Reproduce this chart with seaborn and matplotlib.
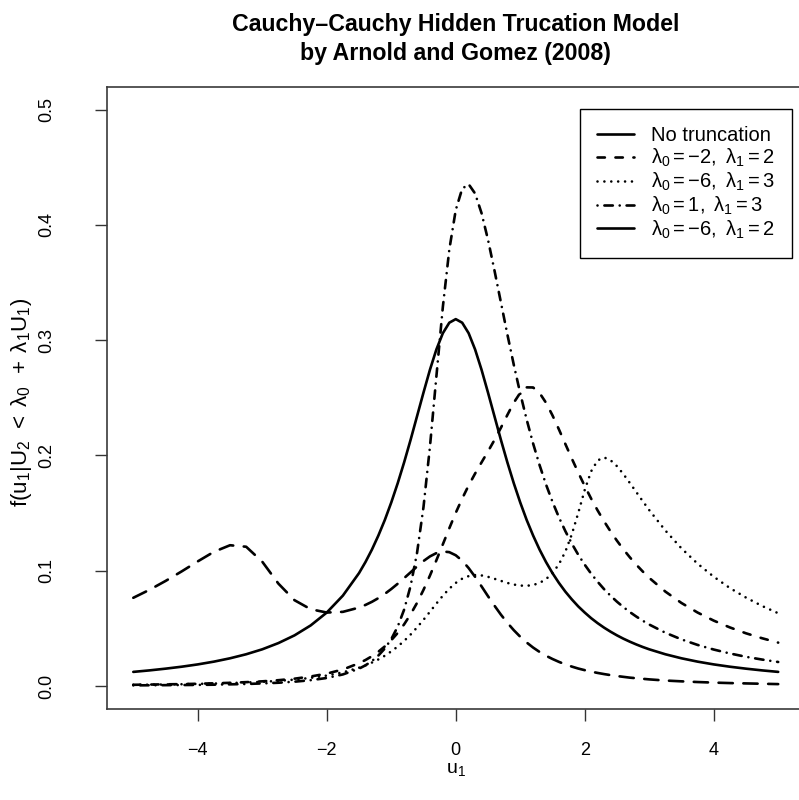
import matplotlib
matplotlib.use("Agg")
import matplotlib.pyplot as plt
from matplotlib.lines import Line2D
import seaborn as sns
import pandas as pd

# Evaluation grid for u1
u1 = [-5, -4.75, -4.5, -4.25, -4, -3.75, -3.5, -3.25, -3, -2.75, -2.5, -2.25, -2, -1.75,
      -1.5, -1.4, -1.3, -1.2, -1.1, -1.0, -0.9, -0.8, -0.7, -0.6, -0.5, -0.4, -0.3, -0.2, -0.1, 0.0,
      0.1, 0.2, 0.3, 0.4, 0.5, 0.6, 0.7, 0.8, 0.9, 1.0, 1.1, 1.2, 1.3, 1.4, 1.5,
      1.6, 1.7, 1.8, 1.9, 2.0, 2.1, 2.2, 2.3, 2.4, 2.5, 2.6, 2.7, 2.8, 2.9, 3.0,
      3.25, 3.5, 3.75, 4, 4.25, 4.5, 4.75, 5]

# Density of u1 without truncation
no_trunc = [0.0122, 0.0135, 0.0150, 0.0167, 0.0187, 0.0211, 0.0240, 0.0275, 0.0318, 0.0372, 0.0439, 0.0525, 0.0637, 0.0784,
            0.0979, 0.1075, 0.1183, 0.1305, 0.1440, 0.1592, 0.1759, 0.1941, 0.2136, 0.2341, 0.2546, 0.2744, 0.2920, 0.3061, 0.3152, 0.3183,
            0.3152, 0.3061, 0.2920, 0.2744, 0.2546, 0.2341, 0.2136, 0.1941, 0.1759, 0.1592, 0.1440, 0.1305, 0.1183, 0.1075, 0.0979,
            0.0894, 0.0818, 0.0751, 0.0690, 0.0637, 0.0588, 0.0545, 0.0506, 0.0471, 0.0439, 0.0410, 0.0384, 0.0360, 0.0338, 0.0318,
            0.0275, 0.0240, 0.0211, 0.0187, 0.0167, 0.0150, 0.0135, 0.0122]

# lambda0 = -2, lambda1 = 2
lam_m2_2 = [0.0010, 0.0012, 0.0014, 0.0016, 0.0019, 0.0023, 0.0027, 0.0033, 0.0040, 0.0050, 0.0063, 0.0082, 0.0107, 0.0143,
            0.0197, 0.0225, 0.0258, 0.0297, 0.0343, 0.0397, 0.0460, 0.0535, 0.0622, 0.0721, 0.0834, 0.0958, 0.1091, 0.1229, 0.1368, 0.1502,
            0.1626, 0.1740, 0.1843, 0.1940, 0.2035, 0.2134, 0.2240, 0.2351, 0.2458, 0.2544, 0.2591, 0.2590, 0.2542, 0.2457, 0.2348,
            0.2226, 0.2099, 0.1973, 0.1851, 0.1735, 0.1625, 0.1523, 0.1429, 0.1341, 0.1260, 0.1185, 0.1116, 0.1052, 0.0993, 0.0938,
            0.0819, 0.0720, 0.0637, 0.0567, 0.0508, 0.0457, 0.0414, 0.0376]

# lambda0 = -6, lambda1 = 3
lam_m6_3 = [0.0010, 0.0011, 0.0013, 0.0015, 0.0018, 0.0021, 0.0025, 0.0030, 0.0036, 0.0044, 0.0055, 0.0070, 0.0090, 0.0118,
            0.0158, 0.0179, 0.0203, 0.0230, 0.0262, 0.0300, 0.0342, 0.0391, 0.0446, 0.0508, 0.0574, 0.0644, 0.0715, 0.0783, 0.0844, 0.0894,
            0.0931, 0.0953, 0.0962, 0.0959, 0.0947, 0.0930, 0.0912, 0.0894, 0.0880, 0.0871, 0.0869, 0.0876, 0.0894, 0.0927, 0.0979,
            0.1056, 0.1166, 0.1316, 0.1502, 0.1701, 0.1863, 0.1957, 0.1983, 0.1959, 0.1907, 0.1838, 0.1761, 0.1682, 0.1603, 0.1526,
            0.1349, 0.1194, 0.1061, 0.0948, 0.0850, 0.0767, 0.0694, 0.0631]

# lambda0 = 1, lambda1 = 3
lam_1_3 = [0.0005, 0.0006, 0.0007, 0.0008, 0.0009, 0.0011, 0.0014, 0.0017, 0.0022, 0.0028, 0.0037, 0.0050, 0.0069, 0.0100,
           0.0150, 0.0179, 0.0216, 0.0264, 0.0325, 0.0406, 0.0515, 0.0663, 0.0868, 0.1155, 0.1553, 0.2076, 0.2687, 0.3289, 0.3786, 0.4130,
           0.4315, 0.4354, 0.4273, 0.4103, 0.3872, 0.3607, 0.3329, 0.3052, 0.2787, 0.2539, 0.2311, 0.2103, 0.1916, 0.1748, 0.1598,
           0.1463, 0.1343, 0.1235, 0.1138, 0.1052, 0.0974, 0.0904, 0.0840, 0.0783, 0.0731, 0.0684, 0.0641, 0.0602, 0.0566, 0.0533,
           0.0462, 0.0404, 0.0356, 0.0316, 0.0282, 0.0253, 0.0229, 0.0208]

# lambda0 = -6 curve (bimodal, long dashes)
lam_m6_2 = [0.0765, 0.0834, 0.0911, 0.0994, 0.1081, 0.1164, 0.1221, 0.1208, 0.1078, 0.0888, 0.0744, 0.0666, 0.0637, 0.0643,
            0.0680, 0.0703, 0.0730, 0.0762, 0.0799, 0.0841, 0.0887, 0.0936, 0.0986, 0.1037, 0.1084, 0.1124, 0.1153, 0.1167, 0.1161, 0.1134,
            0.1087, 0.1023, 0.0947, 0.0864, 0.0779, 0.0697, 0.0619, 0.0548, 0.0484, 0.0427, 0.0377, 0.0333, 0.0295, 0.0262, 0.0234,
            0.0209, 0.0187, 0.0168, 0.0151, 0.0137, 0.0124, 0.0113, 0.0103, 0.0094, 0.0086, 0.0079, 0.0072, 0.0067, 0.0062, 0.0057,
            0.0047, 0.0040, 0.0034, 0.0029, 0.0025, 0.0022, 0.0019, 0.0016]

legend_labels = ["No truncation",
                 r"$\lambda_0 = -2,\ \lambda_1 = 2$",
                 r"$\lambda_0 = -6,\ \lambda_1 = 3$",
                 r"$\lambda_0 = 1,\ \lambda_1 = 3$",
                 r"$\lambda_0 = -6,\ \lambda_1 = 2$"]
title_lines = ["Cauchy\u2013Cauchy Hidden Trucation Model", "by Arnold and Gomez (2008)"]
x_ticks = [-4, -2, 0, 2, 4]
y_ticks = [0.0, 0.1, 0.2, 0.3, 0.4, 0.5]
y_tick_labels = ["0.0", "0.1", "0.2", "0.3", "0.4", "0.5"]

sns.set_theme(style="white")
plt.rcParams.update({
    "font.family": ["Liberation Sans", "DejaVu Sans"],
    "mathtext.fontset": "custom",
    "mathtext.rm": "Liberation Sans",
    "mathtext.it": "Liberation Sans",
    "mathtext.bf": "Liberation Sans:bold",
    "text.color": "black",
    "axes.labelcolor": "black",
    "xtick.color": "black",
    "ytick.color": "black",
})

LW = 1.9
solid = "-"
short_dash = (0, (2.8, 4.0))
dotted = (0, (0.01, 2.6))
dot_dash = (0, (0.01, 2.6, 3.2, 2.6))
long_dash = (0, (5.4, 4.0))

curves = [
    (no_trunc, solid),
    (lam_m2_2, short_dash),
    (lam_m6_3, dotted),
    (lam_1_3, dot_dash),
    (lam_m6_2, long_dash),
]

fig = plt.figure(figsize=(7.99, 8.0), dpi=100)
ax = fig.add_axes([0.13454, 0.11375, 0.87171, 0.77788])

for values, ls in curves:
    df = pd.DataFrame({"u1": u1, "dens": values})
    sns.lineplot(data=df, x="u1", y="dens", ax=ax, color="black", linewidth=LW,
                 linestyle=ls, dash_capstyle="round", solid_capstyle="round",
                 errorbar=None, legend=False)

ax.set_xlim(-5.4, 5.4)
ax.set_ylim(-0.02, 0.52)
ax.set_xticks(x_ticks)
ax.set_yticks(y_ticks)
ax.set_yticklabels(y_tick_labels, rotation=90, va="center")
ax.set_xlabel("")
ax.set_ylabel("")
ax.tick_params(axis="both", which="major", bottom=True, left=True, direction="out",
               length=8.6, width=1.0, color="#333333", labelsize=13)
ax.tick_params(axis="x", pad=15)
ax.tick_params(axis="y", pad=29)
for side in ["left", "right", "top", "bottom"]:
    ax.spines[side].set_color("#3a3a3a")
    ax.spines[side].set_linewidth(1.2)
ax.grid(False)

# Titles and axis labels
cx = 455.7 / 799
fig.text(cx, 1 - 30.7 / 800, title_lines[0], ha="center", va="baseline",
         fontsize=16.7, fontweight="bold")
fig.text(cx, 1 - 60 / 800, title_lines[1], ha="center", va="baseline",
         fontsize=16.7, fontweight="bold")
fig.text(cx, 1 - 770 / 800, r"$\mathrm{u_1}$", ha="center", va="center", fontsize=14)
fig.text(22 / 799, 398 / 800,
         r"$\mathrm{f(u_1 | U_2 \,\;<\; \lambda_0 \,\;+\; \lambda_1 U_1)}$",
         ha="center", va="center", rotation=90, fontsize=16)

# Legend (last entry drawn solid)
legend_styles = [solid, short_dash, dotted, dot_dash, solid]
handles = [Line2D([], [], color="black", linewidth=LW, linestyle=s,
                  dash_capstyle="round", solid_capstyle="round") for s in legend_styles]
leg = fig.legend(handles, legend_labels, loc="upper right",
                 bbox_to_anchor=(792 / 799, 1 - 109 / 800), bbox_transform=fig.transFigure,
                 frameon=True, fancybox=False, framealpha=1, edgecolor="black",
                 fontsize=14.5, handlelength=1.85, handletextpad=0.85, borderpad=0.85,
                 labelspacing=0.08, borderaxespad=0)
leg.get_frame().set_linewidth(1.0)

fig.savefig("out.png", dpi=100)
